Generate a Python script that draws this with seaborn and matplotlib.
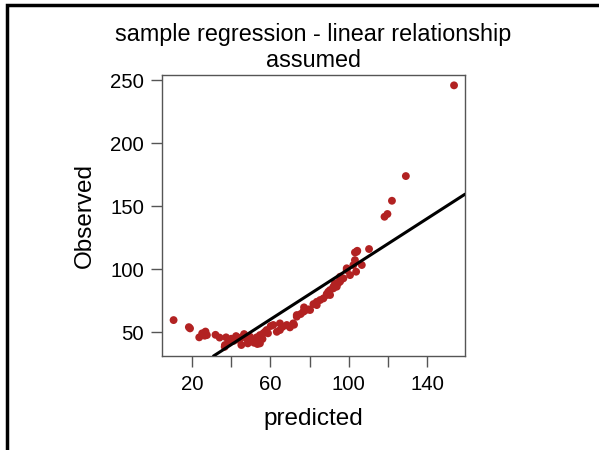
import matplotlib
matplotlib.use("Agg")
import matplotlib.pyplot as plt
import matplotlib.patches as mpatches
import pandas as pd
import seaborn as sns

# values
predicted = [10.6, 18.4, 19.0, 23.7, 25.2, 26.9, 27.6, 26.5, 32.0, 34.1,
             37.4, 36.7, 40.1, 42.5, 41.4, 44.2, 45.2, 46.6, 47.9, 49.6,
             50.0, 51.7, 53.4, 54.7, 53.0, 54.7, 56.4, 57.3, 58.1, 60.2,
             58.8, 61.5, 63.3, 64.9, 64.9, 66.3, 68.4, 70.0, 71.7, 72.1,
             73.5, 73.5, 75.5, 76.8, 77.6, 77.2, 79.6, 80.3, 82.0, 83.7,
             83.7, 85.4, 87.1, 88.8, 88.8, 89.6, 90.5, 90.5, 92.2, 92.2,
             93.0, 93.9, 94.6, 95.6, 95.6, 95.6, 97.3, 99.0, 99.0, 100.7,
             102.4, 103.2, 103.8, 104.1, 103.2, 104.4, 106.7, 110.4, 118.3, 119.8,
             122.1, 129.2, 153.8, 43.5, 48.5, 52.0, 56.0, 45.5, 38.5, 36.8]
observed = [59.5, 53.9, 52.9, 45.8, 49.0, 50.4, 47.6, 47.1, 47.8, 45.6,
            45.8, 38.3, 44.7, 46.8, 43.1, 43.7, 39.7, 48.4, 44.7, 46.3,
            43.1, 41.5, 40.5, 41.0, 45.8, 47.6, 49.0, 50.2, 51.6, 54.8,
            49.0, 55.6, 50.2, 51.6, 56.9, 54.2, 55.6, 53.7, 56.9, 55.8,
            62.2, 63.5, 64.3, 66.1, 66.9, 69.6, 68.0, 67.5, 72.2, 71.4,
            74.0, 75.4, 76.7, 79.4, 80.2, 82.0, 83.3, 79.4, 84.7, 86.0,
            88.7, 86.0, 88.7, 90.0, 91.3, 93.9, 92.6, 99.2, 100.6, 95.2,
            103.2, 107.1, 97.9, 113.7, 113.2, 114.5, 103.2, 115.9, 141.5, 143.7,
            154.2, 173.8, 245.8, 45.5, 41.0, 44.0, 44.5, 46.0, 41.5, 39.7]

line_intercept = 0
line_slope = 1

x_ticks = [20, 40, 60, 80, 100, 120, 140]
x_tick_labels = ["20", "", "60", "", "100", "", "140"]
y_ticks = [50, 100, 150, 200, 250]

df = pd.DataFrame({"predicted": predicted, "Observed": observed})

sns.set_style("white")
plt.rcParams["font.family"] = ["Liberation Sans", "DejaVu Sans"]
plt.rcParams["text.color"] = "black"
plt.rcParams["axes.labelcolor"] = "black"

fig = plt.figure(figsize=(5.99, 4.5), dpi=100)
ax = fig.add_axes([0.2705, 0.2089, 0.5058, 0.6244])

sns.scatterplot(data=df, x="predicted", y="Observed", ax=ax, color="#B22222",
                s=32, edgecolor="none", linewidth=0, zorder=3)
ax.axline((0, line_intercept), slope=line_slope, color="black", lw=2.2, zorder=4)

ax.set_xlim(4.7, 159.4)
ax.set_ylim(31, 254)
ax.set_xticks(x_ticks)
ax.set_xticklabels(x_tick_labels)
ax.set_yticks(y_ticks)

for sp in ax.spines.values():
    sp.set_color("#555555")
    sp.set_linewidth(1.0)
ax.tick_params(axis="both", direction="out", length=8, width=1.0, bottom=True, left=True,
               color="#555555", labelsize=14.7, labelcolor="black", pad=6)
ax.tick_params(axis="y", pad=5)

ax.set_xlabel("predicted", fontsize=17.5, labelpad=10, color="black")
ax.set_ylabel("Observed", fontsize=17.5, labelpad=10, color="black")
ax.set_title("sample regression - linear relationship\nassumed", fontsize=16.8,
             linespacing=1.15, pad=6, color="black")

# outer frame, only the left and top edges show in the picture
fig.patches.append(mpatches.Rectangle((7 / 599, -0.2), 1.2, 1.2 - 5 / 450, transform=fig.transFigure,
                                      fill=False, ec="black", lw=2.5))

fig.savefig("out.png", dpi=100)
